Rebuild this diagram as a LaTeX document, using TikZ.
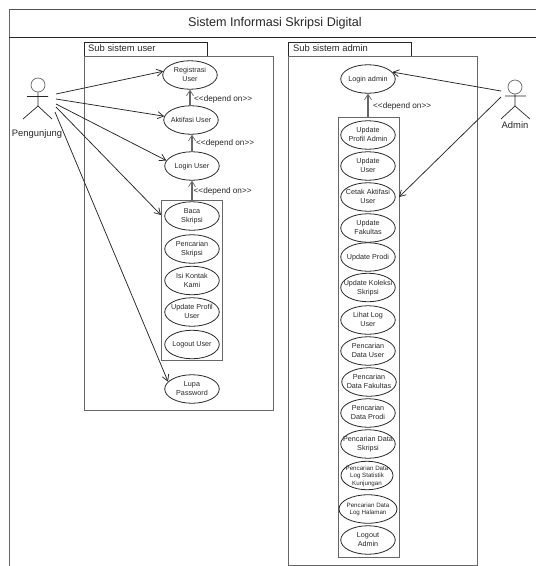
\documentclass[tikz,border=0pt]{standalone}
\usepackage{fontspec}
\setmainfont{Liberation Sans}
\usetikzlibrary{shapes.geometric,arrows.meta}
\definecolor{ink}{gray}{0.15}
\newcommand{\uctext}[1]{\makebox[0pt]{\raisebox{-2.3pt}[0pt][0pt]{\begin{tabular}{@{}c@{}}#1\end{tabular}}}}
\tikzset{
  x=1pt,y=-1pt,
  usecase/.style={draw=ink,line width=0.8pt,ellipse,minimum width=54.5pt,minimum height=28.5pt,inner sep=0pt,font=\fontsize{7.2}{8.7}\selectfont,text=ink},
  smallcase/.style={usecase,font=\fontsize{6.2}{7.4}\selectfont},
  framebox/.style={draw=ink!70,line width=0.9pt},
  tabbox/.style={draw=ink,line width=0.9pt},
  tablabel/.style={font=\fontsize{9.4}{11}\selectfont,text=ink,anchor=west,inner sep=0pt},
  assoc/.style={draw=ink,line width=0.75pt,-{Straight Barb[length=6pt,width=7pt]}},
  dep/.style={draw=ink!70,line width=1.2pt,-{Straight Barb[length=5.5pt,width=7pt,line width=0.7pt]}},
  deplabel/.style={font=\fontsize{8.2}{9}\selectfont,text=ink,anchor=west,inner sep=0pt},
  actorline/.style={draw=ink,line width=0.7pt},
  actorhead/.style={draw=ink!70,line width=0.7pt,circle,minimum size=14pt,inner sep=0pt},
  actorlabel/.style={font=\fontsize{9.4}{11}\selectfont,text=ink,inner sep=0pt},
}
\begin{document}
\begin{tikzpicture}
\useasboundingbox (0,0) rectangle (536,566);
% outer frame
\draw[framebox] (9,566) -- (9,9);
\draw[draw=ink!80,line width=1pt] (9,9) -- (536,9);
\draw[draw=ink,line width=1pt] (9,37) -- (536,37);
\node[font=\fontsize{12.6}{15}\selectfont,text=ink] (title) at (275,23.5) {Sistem Informasi Skripsi Digital};
% sub system user
\draw[tabbox] (84,42) rectangle (207,56);
\node[tablabel] (subuser) at (88,48.5) {Sub sistem user};
\draw[framebox] (84,56) rectangle (273,410);
\draw[framebox] (161,200) rectangle (222,360);
\node[usecase] (reg) at (190,75) {\uctext{Registrasi\\User}};
\node[usecase] (akt) at (191,120) {\uctext{Aktifasi User}};
\node[usecase] (log) at (192,166) {\uctext{Login User}};
\node[usecase] (baca) at (192,216) {\uctext{Baca\\Skripsi}};
\node[usecase] (cari) at (192,249) {\uctext{Pencarian\\Skripsi}};
\node[usecase] (isi) at (192,280.5) {\uctext{Isi Kontak\\Kami}};
\node[usecase] (prof) at (192,312) {\uctext{Update Profil\\User}};
\node[usecase] (lout) at (192,344.5) {\uctext{Logout User}};
\node[usecase] (lupa) at (192,389) {\uctext{Lupa\\Password}};
% sub system admin
\draw[tabbox] (288,42) rectangle (411,56);
\node[tablabel] (subadmin) at (293,48.5) {Sub sistem admin};
\draw[framebox] (288,56) rectangle (477,565);
\draw[framebox] (338,117) rectangle (399,557);
\node[usecase] (ladm) at (368,79) {\uctext{Login admin}};
\node[usecase] (a1) at (368,135) {\uctext{Update\\Profil Admin}};
\node[usecase] (a2) at (368,166) {\uctext{Update\\User}};
\node[usecase] (a3) at (368,197) {\uctext{Cetak Aktifasi\\User}};
\node[usecase] (a4) at (368,228) {\uctext{Update\\Fakultas}};
\node[usecase] (a5) at (368,257) {\uctext{Update Prodi}};
\node[usecase] (a6) at (368,287.5) {\uctext{Update Koleksi\\Skripsi}};
\node[usecase] (a7) at (368,320) {\uctext{Lihat Log\\User}};
\node[usecase] (a8) at (368,351) {\uctext{Pencarian\\Data User}};
\node[usecase] (a9) at (369,382) {\uctext{Pencarian\\Data Fakultas}};
\node[usecase] (a10) at (368,413) {\uctext{Pencarian\\Data Prodi}};
\node[usecase] (a11) at (368,444) {\uctext{Pencarian Data\\Skripsi}};
\node[smallcase,minimum width=52pt] (a12) at (367,475.5) {\uctext{Pencarian Data\\Log Statistik\\Kunjungan}};
\node[smallcase,minimum width=58pt] (a13) at (368,509) {\uctext{Pencarian Data\\Log Halaman}};
\node[usecase] (a14) at (368,540) {\uctext{Logout\\Admin}};
% actors
\node[actorhead] (pengh) at (38,85) {};
\coordinate (pengb) at (38,106);
\coordinate (pengal) at (27,96.5);
\coordinate (pengar) at (48,96.5);
\coordinate (penglr) at (52,119);
\coordinate (pengll) at (23,119);
\draw[actorline] (pengh) -- (pengb) (pengal) -- (pengar) (pengll) -- (pengb) -- (penglr);
\node[actorlabel] (pengl) at (37,134) {Pengunjung};
\node[actorhead] (admh) at (515,87) {};
\coordinate (admb) at (515,106);
\coordinate (admal) at (505,96);
\coordinate (admar) at (526,96);
\coordinate (admll) at (501,119);
\coordinate (admlr) at (530,119);
\draw[actorline] (admh) -- (admb) (admal) -- (admar) (admll) -- (admb) -- (admlr);
\node[actorlabel] (adml) at (515,125.5) {Admin};
% actor connectors
\coordinate (p1) at (56,94);
\coordinate (p2) at (56,99);
\coordinate (p3) at (56,104);
\coordinate (p4) at (56,107);
\coordinate (p5) at (55,112);
\coordinate (q1) at (501,91);
\coordinate (q2) at (501,97);
\coordinate (grpw) at (161,215);
\coordinate (grpe) at (399,197);
\coordinate (grptop) at (192,200);
\coordinate (admtop) at (368,117);
\draw[assoc] (p1) -- (reg.172);
\draw[assoc] (p2) -- (akt.172);
\draw[assoc] (p3) -- (log.168);
\draw[assoc] (p4) -- (grpw);
\draw[assoc] (p5) -- (lupa.163);
\draw[assoc] (q1) -- (ladm.16);
\draw[assoc] (q2) -- (grpe);
% depend connectors
\draw[dep] (akt.north -| reg) -- (reg.south);
\draw[dep] (log.north) -- (log.north |- akt.south);
\draw[dep] (grptop) -- (log.south);
\draw[dep] (admtop) -- (ladm.south);
\node[deplabel] (d1) at (194,99) {<{}<depend on>{}>};
\node[deplabel] (d2) at (196,143) {<{}<depend on>{}>};
\node[deplabel] (d3) at (193.5,191) {<{}<depend on>{}>};
\node[deplabel] (d4) at (373,106.5) {<{}<depend on>{}>};
\end{tikzpicture}
\end{document}
